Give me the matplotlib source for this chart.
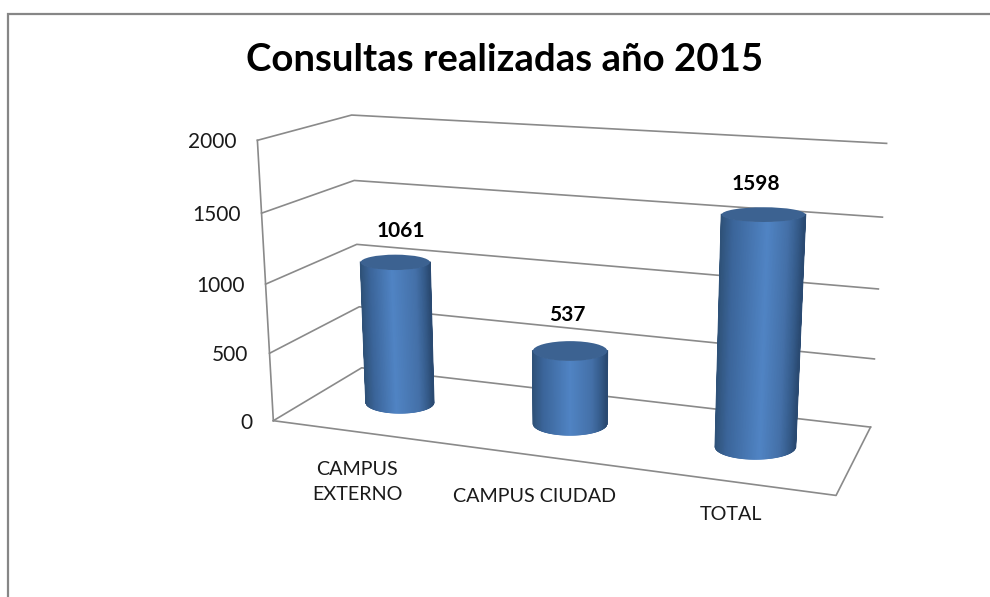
import numpy as np
import matplotlib
matplotlib.use("Agg")
import matplotlib.pyplot as plt
from matplotlib.collections import PolyCollection
from matplotlib.colors import LinearSegmentedColormap
from matplotlib.patches import Ellipse

plt.rcParams["font.family"] = ["Lato", "DejaVu Sans"]

# Values
title = "Consultas realizadas año 2015"
categories = ["CAMPUS\nEXTERNO", "CAMPUS CIUDAD", "TOTAL"]
values = [1061, 537, 1598]
y_ticks = [0, 500, 1000, 1500, 2000]
y_max = 2000

# Chart box as seen in the picture, used to fit the 3D view
front_left_px = [(272.7, 421), (270, 353), (266, 283.7), (261.7, 213), (257, 140.7)]
back_left_px = [(362, 368), (359, 307), (356.7, 244), (354, 180.7), (351.7, 115)]
back_right_px = [(870.7, 426.7), (874.3, 359), (878, 289), (882.7, 217.3), (886.7, 143.3)]
front_right_px = (836, 495.7)

# Label placement in pixels
category_pos = [(357, 482), (535, 496), (731, 515)]
value_offset = [(6, -24), (-3, -26), (-8, -23)]

GRID = "#8a8a8a"
BAR_TOP = "#3c6291"
BAR_EDGE_L = "#2f5279"
BAR_EDGE_R = "#2a4a72"
RADIUS_U = 0.069
RADIUS_V = 0.19


def fit_view():
    # u across, v into the page, h up (0-1)
    model, image = [], []
    for i, tick in enumerate(y_ticks):
        h = tick / y_max
        model += [(0, 0, h), (0, 1, h), (1, 1, h)]
        image += [front_left_px[i], back_left_px[i], back_right_px[i]]
    model.append((1, 0, 0))
    image.append(front_right_px)
    rows = []
    for (u, v, h), (x, y) in zip(model, image):
        rows.append([u, v, h, 1, 0, 0, 0, 0, -x * u, -x * v, -x * h, -x])
        rows.append([0, 0, 0, 0, u, v, h, 1, -y * u, -y * v, -y * h, -y])
    return np.linalg.svd(np.array(rows))[2][-1].reshape(3, 4)


view = fit_view()


def project(u, v, value):
    p = view @ np.array([u, v, value / y_max, 1.0])
    return p[0] / p[2], p[1] / p[2]


def bar_shades(peak):
    return LinearSegmentedColormap.from_list(
        "bar",
        [(0, BAR_EDGE_L), (0.14, "#3b659a"), (peak, "#5084c4"),
         (0.8, "#4470a8"), (0.93, "#345a88"), (1, BAR_EDGE_R)],
    )


def ellipse_at(u, value):
    cx, cy = project(u, 0.5, value)
    half_w = (project(u + RADIUS_U, 0.5, value)[0] - project(u - RADIUS_U, 0.5, value)[0]) / 2
    half_h = (project(u, 0.5 - RADIUS_V, value)[1] - project(u, 0.5 + RADIUS_V, value)[1]) / 2
    return cx, cy, half_w, half_h


def draw_bar(ax, u, value, peak):
    bx, by, bw, bh = ellipse_at(u, 0)
    tx, ty, tw, th = ellipse_at(u, value)
    angles = np.linspace(np.pi, 0, 161)
    strips = []
    for a, b in zip(angles[:-1], angles[1:]):
        strips.append([
            (tx + tw * np.cos(a), ty + th * np.sin(a)),
            (tx + tw * np.cos(b), ty + th * np.sin(b)),
            (bx + bw * np.cos(b), by + bh * np.sin(b)),
            (bx + bw * np.cos(a), by + bh * np.sin(a)),
        ])
    # Shade by position across the cylinder, left to right
    colors = bar_shades(peak)((1 + np.cos(angles[:-1])) / 2)
    ax.add_collection(PolyCollection(strips, facecolors=colors, edgecolors=colors, linewidths=0.6, zorder=3))
    # Smooth the stepped sides with a thin line along each one
    ax.plot([tx - tw, bx - bw], [ty, by], color=BAR_EDGE_L, lw=1.2, zorder=3.5)
    ax.plot([tx + tw, bx + bw], [ty, by], color=BAR_EDGE_R, lw=1.2, zorder=3.5)
    ax.add_patch(Ellipse((tx, ty), 2 * tw, 2 * th, facecolor=BAR_TOP, edgecolor="none", zorder=4))
    return ty - th


fig = plt.figure(figsize=(9.9, 5.97), dpi=100)
ax = fig.add_axes([0, 0, 1, 1])
ax.set_xlim(0, 990)
ax.set_ylim(597, 0)
ax.axis("off")

# Outer border of the chart area
ax.plot([8, 8, 990], [597, 14, 14], color="#868686", lw=1.6, solid_joinstyle="miter", zorder=1)

ax.text(505, 60, title, ha="center", va="center", fontsize=27.6, fontweight="bold", color="black")

# Walls and floor
for tick in y_ticks:
    pts = [project(0, 0, tick), project(0, 1, tick), project(1, 1, tick)]
    ax.plot(*zip(*pts), color=GRID, lw=1.2, zorder=2)
    x, y = project(0, 0, tick)
    ax.text(x - 21, y + 2, str(tick), ha="right", va="center", fontsize=15, color="#1a1a1a")
ax.plot(*zip(project(0, 0, 0), project(0, 0, y_max)), color=GRID, lw=1.2, zorder=2)
ax.plot(*zip(project(0, 0, 0), project(1, 0, 0), project(1, 1, 0)), color=GRID, lw=1.2, zorder=2)

# Cylinders
for i, value in enumerate(values):
    u = (i + 0.5) / len(values)
    top = draw_bar(ax, u, value, 0.45 + 0.05 * i)
    x = project(u, 0.5, value)[0]
    ax.text(x + value_offset[i][0], top + value_offset[i][1], str(value), ha="center", va="center",
            fontsize=15, fontweight="bold", color="black", zorder=5)

for label, (x, y) in zip(categories, category_pos):
    ax.text(x, y, label, ha="center", va="center", fontsize=14.2, linespacing=1.6, color="#1a1a1a")

fig.savefig("out.png", dpi=100)
